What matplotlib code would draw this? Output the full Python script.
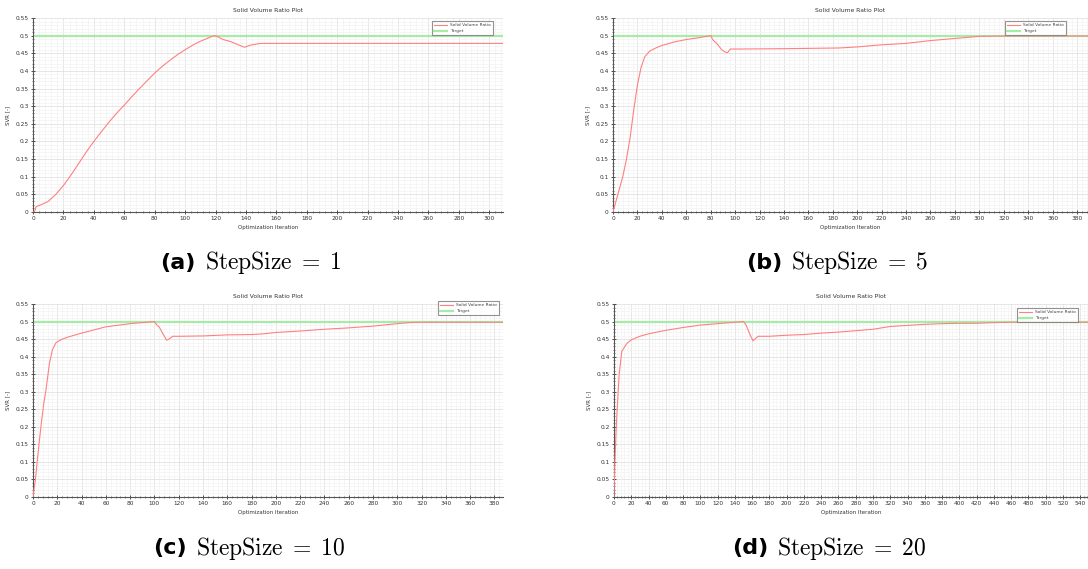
import numpy as np
import matplotlib
matplotlib.use("Agg")
import matplotlib.pyplot as plt
from matplotlib.ticker import MultipleLocator

plt.rcParams['mathtext.fontset'] = 'cm'
plt.rcParams['font.family'] = ['DejaVu Sans']

W, H = 1088, 569

# Valeurs du rapport de volume solide
target = 0.5

iter_a = [0, 1, 2, 5, 10, 15, 20, 25, 30, 35, 40, 45, 50, 55, 60, 65, 70, 75, 80,
          85, 90, 95, 100, 105, 110, 115, 119, 121, 125, 130, 135, 139, 143, 148,
          150, 200, 250, 309]
svr_a = [0.0, 0.0, 0.015, 0.02, 0.03, 0.05, 0.075, 0.105, 0.137, 0.17, 0.2, 0.228,
         0.255, 0.28, 0.303, 0.327, 0.35, 0.372, 0.394, 0.413, 0.43, 0.446, 0.46,
         0.473, 0.484, 0.493, 0.5, 0.498, 0.489, 0.483, 0.474, 0.467, 0.473, 0.477,
         0.478, 0.478, 0.478, 0.478]

iter_b = [0, 4, 8, 11, 14, 17, 20, 23, 26, 30, 35, 40, 50, 60, 70, 80, 82, 85, 89,
          92, 94, 96, 100, 140, 185, 200, 220, 240, 260, 280, 300, 320, 389]
svr_b = [0.0, 0.05, 0.1, 0.15, 0.21, 0.29, 0.36, 0.41, 0.44, 0.456, 0.465, 0.472,
         0.482, 0.489, 0.494, 0.5, 0.487, 0.478, 0.46, 0.453, 0.452, 0.462, 0.462,
         0.463, 0.465, 0.468, 0.474, 0.478, 0.486, 0.492, 0.498, 0.499, 0.499]

iter_c = [0, 2, 4, 6.5, 9, 10.5, 13.5, 16, 19, 24, 30, 40, 60, 80, 100, 102, 104,
          107, 110, 112, 115, 120, 140, 160, 180, 190, 200, 220, 240, 260, 280, 300,
          310, 320, 387]
svr_c = [0.0, 0.05, 0.12, 0.2, 0.27, 0.3, 0.38, 0.42, 0.44, 0.45, 0.457, 0.467,
         0.485, 0.494, 0.5, 0.49, 0.484, 0.465, 0.447, 0.45, 0.458, 0.458, 0.459,
         0.462, 0.463, 0.465, 0.469, 0.473, 0.478, 0.482, 0.487, 0.494, 0.497, 0.498,
         0.498]

iter_d = [0, 1, 3, 6, 9, 15, 20, 30, 40, 60, 80, 100, 120, 140, 150, 153, 158, 161,
          164, 167, 180, 200, 220, 240, 260, 280, 300, 320, 340, 360, 380, 400, 420,
          440, 460, 549]
svr_d = [0.0, 0.1, 0.22, 0.35, 0.415, 0.438, 0.448, 0.458, 0.465, 0.475, 0.483,
         0.49, 0.494, 0.498, 0.5, 0.49, 0.46, 0.445, 0.452, 0.458, 0.458, 0.461,
         0.463, 0.467, 0.47, 0.474, 0.478, 0.486, 0.489, 0.492, 0.494, 0.495, 0.495,
         0.497, 0.498, 0.498]

panels = [
    ("(a)", "1", iter_a, svr_a, 309),
    ("(b)", "5", iter_b, svr_b, 389),
    ("(c)", "10", iter_c, svr_c, 387),
    ("(d)", "20", iter_d, svr_d, 549),
]

# Positions en pixels : gauche, haut, droite, bas des axes
boxes = [(33, 18, 503, 212), (613, 18, 1088, 212),
         (33, 304, 503, 497), (614, 304, 1088, 497)]
captions = [(196, 263), (782, 263), (187, 548), (768, 548)]
legends = [(430, 19), (1003, 19), (436, 299), (1015, 306)]


def plot_panel(fig, box, label, step, iters, svr, xmax, cap, leg):
    l, t, r, b = box
    ax = fig.add_axes([l / W, 1 - b / H, (r - l) / W, (b - t) / H])
    ax.axhline(target, color='#a6eca6', lw=1.6, label='Target', zorder=2)
    ax.plot(iters, svr, color='#ff8080', lw=0.8, label='Solid Volume Ratio', zorder=3)
    ax.set_xlim(0, xmax)
    ax.set_ylim(0, 0.55)
    ax.xaxis.set_major_locator(MultipleLocator(20))
    ax.xaxis.set_minor_locator(MultipleLocator(4))
    ax.yaxis.set_major_locator(MultipleLocator(0.05))
    ax.yaxis.set_minor_locator(MultipleLocator(0.01))
    ax.yaxis.set_major_formatter(lambda v, p: f"{v:.2f}".rstrip('0').rstrip('.') if v else "0")
    ax.grid(which='major', color='#e2e2e2', lw=0.6)
    ax.grid(which='minor', color='#f3f3f3', lw=0.5)
    ax.set_axisbelow(True)
    for s in ('top', 'right'):
        ax.spines[s].set_visible(False)
    for s in ('left', 'bottom'):
        ax.spines[s].set_color('#555555')
        ax.spines[s].set_linewidth(0.8)
    ax.tick_params(which='major', direction='inout', length=3, width=0.6,
                   labelsize=4.2, colors='#333333', pad=1.5)
    ax.tick_params(which='minor', direction='inout', length=1.8, width=0.5,
                   colors='#555555')
    ax.set_title("Solid Volume Ratio Plot", fontsize=4.3, color='#333333', pad=4)
    ax.set_xlabel("Optimization Iteration", fontsize=4, color='#333333', labelpad=3)
    ax.set_ylabel("SVR [-]", fontsize=4, color='#333333', labelpad=4)

    h, lb = ax.get_legend_handles_labels()
    lg = fig.legend(h[::-1], lb[::-1], loc='upper left',
                    bbox_to_anchor=(leg[0] / W, 1 - leg[1] / H),
                    fontsize=3.2, frameon=True, fancybox=False, handlelength=3,
                    borderpad=0.4, labelspacing=0.5, handletextpad=0.6)
    lg.get_frame().set_edgecolor('#777777')
    lg.get_frame().set_linewidth(0.8)
    for txt in lg.get_texts():
        txt.set_color('#444444')

    fig.text(cap[0] / W, 1 - cap[1] / H, label, ha='right', va='center',
             fontsize=16, fontweight='bold')
    fig.text((cap[0] + 9) / W, 1 - cap[1] / H,
             r"$\mathrm{StepSize}\;=\;%s$" % step, ha='left', va='center',
             fontsize=17)
    return ax


if __name__ == "__main__":
    fig = plt.figure(figsize=(W / 100, H / 100), dpi=100)
    for (label, step, iters, svr, xmax), box, cap, leg in zip(panels, boxes, captions, legends):
        plot_panel(fig, box, label, step, iters, svr, xmax, cap, leg)
    fig.savefig("out.png", dpi=100)
